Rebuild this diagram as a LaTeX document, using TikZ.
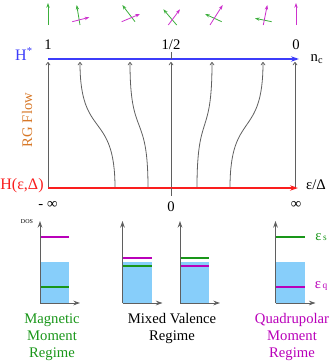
\documentclass[tikz,border=0pt]{standalone}
\usepackage{fontspec}
\setmainfont{Liberation Serif}
\usetikzlibrary{arrows.meta}
\definecolor{hstarblue}{RGB}{60,60,250}
\definecolor{hred}{RGB}{250,30,30}
\definecolor{flowgrey}{RGB}{95,95,95}
\definecolor{spingreen}{RGB}{60,175,60}
\definecolor{spinmagenta}{RGB}{205,50,205}
\definecolor{levelgreen}{RGB}{25,150,25}
\definecolor{levelmagenta}{RGB}{185,0,185}
\definecolor{dosblue}{RGB}{135,206,250}
\definecolor{rgorange}{RGB}{215,120,40}

\begin{document}
\begin{tikzpicture}[x=0.75pt,y=-0.75pt,
		every node/.style={font=\fontsize{11}{12.75}\selectfont},
		axisline/.style={line width=1.3pt,-{Stealth[length=6pt,width=4pt]}},
		flowline/.style={flowgrey,line width=0.6pt,-{To[length=2.5pt,width=3.5pt]}},
		spinarrow/.style={line width=0.6pt,-{Stealth[length=3.5pt,width=2.5pt]}},
		dosaxis/.style={flowgrey,line width=0.7pt,-{Stealth[length=5pt,width=3.5pt]}},
		doslevel/.style={line width=1.4pt},
		dosband/.style={fill=dosblue}]
	\useasboundingbox (0,0) rectangle (332,364);
	
	\draw[spinarrow,spingreen] (48,25) -- (48,3);
	\draw[spinarrow,spingreen] (80,25) -- (76.7,5);
	\draw[spinarrow,spinmagenta] (72.3,21.7) -- (89.3,17.3);
	\draw[spinarrow,spingreen] (135,21.7) -- (122.3,5);
	\draw[spinarrow,spinmagenta] (121.7,21.7) -- (140,14);
	\draw[spinarrow,spingreen] (176.7,25) -- (163.3,9.3);
	\draw[spinarrow,spinmagenta] (168.3,25) -- (180,9.3);
	\draw[spinarrow,spingreen] (221.7,21.7) -- (205,14);
	\draw[spinarrow,spinmagenta] (210,25) -- (222.7,5);
	\draw[spinarrow,spingreen] (271.7,21.7) -- (255,18.3);
	\draw[spinarrow,spinmagenta] (263.3,25) -- (267.3,5);
	\draw[spinarrow,spinmagenta] (296,25) -- (296,3);
	
	\coordinate (hsL) at (48,59);
	\coordinate (hsR) at (299,59);
	\draw[axisline,hstarblue] (hsL) -- (hsR);
	\draw[flowgrey] (171,52) -- (171,59);
	\node (one) at (48,45) {1};
	\node (half) at (171,45) {1/2};
	\node (zero) at (296,45) {0};
	\node (nc) at (317,59) {n\textsubscript{c}};
	\node[hstarblue,font=\fontsize{12}{14}\selectfont] (hstar) at (24,54) {H\textsuperscript{*}};
	\node[rgorange,rotate=90] (rgflow) at (27,120) {RG Flow};
	
	\coordinate (t1) at (48,62);
	\coordinate (t2) at (80,62);
	\coordinate (t3) at (130,62);
	\coordinate (t4) at (171,62);
	\coordinate (t5) at (212,62);
	\coordinate (t6) at (263,62);
	\coordinate (t7) at (295,62);
	\coordinate (b1) at (48,188);
	\coordinate (b2) at (115,188);
	\coordinate (b3) at (148,188);
	\coordinate (b4) at (171,188);
	\coordinate (b5) at (197,188);
	\coordinate (b6) at (230,188);
	\coordinate (b7) at (295,188);
	\draw[flowline] (b1) -- (t1);
	\draw[flowline] (b2) .. controls (115,110) and (80,140) .. (t2);
	\draw[flowline] (b3) .. controls (148,110) and (130,140) .. (t3);
	\draw[flowline] (b4) -- (t4);
	\draw[flowline] (b5) .. controls (197,110) and (212,140) .. (t5);
	\draw[flowline] (b6) .. controls (230,110) and (263,140) .. (t6);
	\draw[flowline] (b7) -- (t7);
	
	\coordinate (heL) at (48,188);
	\coordinate (heR) at (298,188);
	\draw[axisline,hred] (heL) -- (heR);
	\draw[flowgrey] (171,188) -- (171,196);
	\node[hred,font=\fontsize{12}{14}\selectfont] (hed) at (22,186) {H(ε,Δ)};
	\node (epsd) at (316,185) {ε/Δ};
	\node (minf) at (48,205) {- ∞};
	\node (mid) at (171,207) {0};
	\node (inf) at (296,205) {∞};
	
	\fill[dosband] (40,262) rectangle (69,303);
	\draw[doslevel,levelmagenta] (40,237) -- (69,237);
	\draw[doslevel,levelgreen] (40,287) -- (69,287);
	\coordinate (o1) at (40,303);
	\coordinate (y1) at (40,221);
	\coordinate (x1) at (80,303);
	\draw[dosaxis] (o1) -- (y1);
	\draw[dosaxis] (o1) -- (x1);
	\node[font=\fontsize{4.5}{5}\selectfont] (dos) at (27,222) {DOS};
	
	\fill[dosband] (122.5,262) rectangle (151.5,303);
	\draw[doslevel,levelmagenta] (122.5,257.7) -- (151.5,257.7);
	\draw[doslevel,levelgreen] (122.5,266) -- (151.5,266);
	\coordinate (o2) at (122.5,303);
	\coordinate (y2) at (122.5,221);
	\coordinate (x2) at (162.5,303);
	\draw[dosaxis] (o2) -- (y2);
	\draw[dosaxis] (o2) -- (x2);
	
	\fill[dosband] (180,262) rectangle (209,303);
	\draw[doslevel,levelgreen] (180,257.7) -- (209,257.7);
	\draw[doslevel,levelmagenta] (180,266) -- (209,266);
	\coordinate (o3) at (180,303);
	\coordinate (y3) at (180,221);
	\coordinate (x3) at (220,303);
	\draw[dosaxis] (o3) -- (y3);
	\draw[dosaxis] (o3) -- (x3);
	
	\fill[dosband] (275.5,262) rectangle (304.5,303);
	\draw[doslevel,levelgreen] (275.5,237) -- (304.5,237);
	\draw[doslevel,levelmagenta] (275.5,287) -- (304.5,287);
	\coordinate (o4) at (275.5,303);
	\coordinate (y4) at (275.5,221);
	\coordinate (x4) at (315.5,303);
	\draw[dosaxis] (o4) -- (y4);
	\draw[dosaxis] (o4) -- (x4);
	\node[levelgreen] (epss) at (321,237) {ε{\scriptsize\,s}};
	\node[levelmagenta] (epsq) at (321,286) {ε{\scriptsize\,q}};
	
	\node[levelgreen,align=center] (magnetic) at (52,337) {Magnetic\\Moment\\Regime};
	\node[align=center] (mixed) at (172,328.5) {Mixed Valence\\Regime};
	\node[levelmagenta,align=center] (quadru) at (292,337) {Quadrupolar\\Moment\\Regime};
\end{tikzpicture}
\end{document}
